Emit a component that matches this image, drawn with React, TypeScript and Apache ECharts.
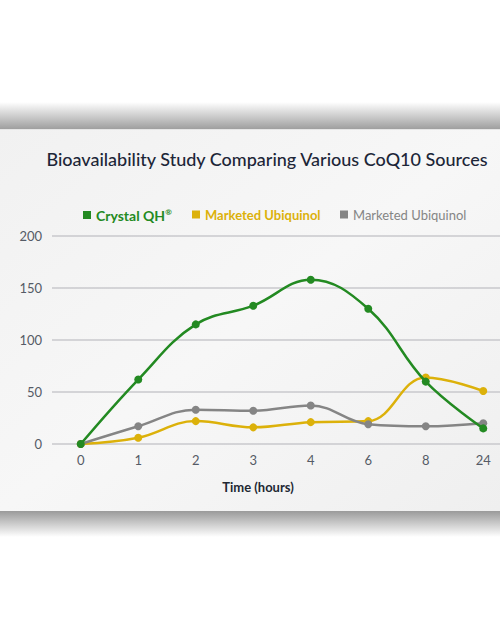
import React, { useEffect, useRef } from "react";
import * as echarts from "echarts";

const hours = ["0", "1", "2", "3", "4", "6", "8", "24"];
const crystalQH = [0, 62, 115, 133, 158, 130, 60, 15];
const ubiquinolA = [0, 6, 22, 16, 21, 22, 64, 51];
const ubiquinolB = [0, 17, 33, 32, 37, 19, 17, 20];
const yTicks = { min: 0, max: 200, interval: 50 };

const GREEN = "#238a22";
const YELLOW = "#dcb10a";
const GRAY = "#858585";

export default function App() {
  const ref = useRef<HTMLDivElement>(null);
  useEffect(() => {
    if (!ref.current) return;
    const chart = echarts.init(ref.current, undefined, { renderer: "svg" });
    const font = "Lato, 'Open Sans', sans-serif";
    const mkSeries = (name: string, data: number[], color: string, z: number) => ({
      name,
      type: "line",
      data,
      smooth: 0.4,
      symbol: "circle",
      symbolSize: 8,
      z,
      lineStyle: { color, width: 2.5 },
      itemStyle: { color },
    });
    chart.setOption({
      animation: false,
      backgroundColor: "#ffffff",
      textStyle: { fontFamily: font },
      graphic: [
        {
          type: "rect",
          z: -10,
          silent: true,
          shape: { x: 0, y: 102, width: 500, height: 27 },
          style: {
            fill: new echarts.graphic.LinearGradient(0, 0, 0, 1, [
              { offset: 0, color: "#ffffff" },
              { offset: 1, color: "#9f9f9f" },
            ]),
          },
        },
        {
          type: "rect",
          z: -10,
          silent: true,
          shape: { x: 0, y: 511, width: 500, height: 26 },
          style: {
            fill: new echarts.graphic.LinearGradient(0, 0, 0, 1, [
              { offset: 0, color: "#9a9a9a" },
              { offset: 1, color: "#ffffff" },
            ]),
          },
        },
        {
          type: "rect",
          z: -9,
          silent: true,
          shape: { x: 0, y: 129, width: 500, height: 382 },
          style: {
            fill: new echarts.graphic.LinearGradient(0, 0, 1, 1, [
              { offset: 0, color: "#f1f1f1" },
              { offset: 0.5, color: "#f7f7f7" },
              { offset: 1, color: "#efefef" },
            ]),
          },
        },
        {
          type: "rect",
          z: -8,
          silent: true,
          shape: { x: 0, y: 129, width: 500, height: 1 },
          style: { fill: "#e6e6e6" },
        },
      ],
      title: {
        text: "Bioavailability Study Comparing Various CoQ10 Sources",
        left: 262,
        textAlign: "center",
        top: 145,
        textStyle: { fontFamily: font, fontSize: 18, fontWeight: 500, color: "#1d2638" },
      },
      legend: [
        {
          left: 78,
          top: 203,
          icon: "rect",
          itemWidth: 8,
          itemHeight: 8,
          itemGap: 6,
          data: [{ name: "Crystal QH®", itemStyle: { color: GREEN } }],
          formatter: () => "{a|Crystal QH}{r|®}",
          textStyle: {
            rich: {
              a: { fontFamily: font, fontSize: 14, fontWeight: "bold", color: GREEN },
              r: { fontFamily: font, fontSize: 8, fontWeight: "bold", color: GREEN, verticalAlign: "top", padding: [0, 0, 5, 0] },
            },
          },
        },
        {
          left: 187,
          top: 203,
          icon: "rect",
          itemWidth: 8,
          itemHeight: 8,
          itemGap: 6,
          data: [{ name: "Marketed Ubiquinol", itemStyle: { color: YELLOW } }],
          textStyle: { fontFamily: font, fontSize: 13, fontWeight: "bold", color: YELLOW },
        },
        {
          left: 335,
          top: 203,
          icon: "rect",
          itemWidth: 8,
          itemHeight: 8,
          itemGap: 6,
          data: [{ name: "Marketed Ubiquinol ", itemStyle: { color: GRAY } }],
          formatter: () => "Marketed Ubiquinol",
          textStyle: { fontFamily: font, fontSize: 13, color: GRAY },
        },
      ],
      grid: { left: 52, right: -12, top: 236, bottom: 197, containLabel: false, outerBoundsMode: "none" },
      xAxis: {
        type: "category",
        data: hours,
        boundaryGap: true,
        axisLine: { show: false },
        axisTick: { show: false },
        axisLabel: { color: "#555b66", fontSize: 13, margin: 9, fontFamily: font },
        name: "Time (hours)",
        nameLocation: "middle",
        nameGap: 36,
        nameTextStyle: { color: "#222833", fontSize: 13, fontWeight: "bold", fontFamily: font, padding: [0, 48, 0, 0] },
      },
      yAxis: {
        type: "value",
        min: yTicks.min,
        max: yTicks.max,
        interval: yTicks.interval,
        axisLine: { show: false },
        axisTick: { show: false },
        axisLabel: { color: "#555b66", fontSize: 13, margin: 10, fontFamily: font },
        splitLine: { lineStyle: { color: "#c9c9cc", width: 1.5 } },
      },
      series: [
        mkSeries("Crystal QH®", crystalQH, GREEN, 3),
        mkSeries("Marketed Ubiquinol", ubiquinolA, YELLOW, 2),
        mkSeries("Marketed Ubiquinol ", ubiquinolB, GRAY, 2),
      ],
    });
    return () => chart.dispose();
  }, []);
  return (
    <div
      ref={ref}
      style={{ position: "fixed", left: 0, top: 0, width: 500, height: 641 }}
    />
  );
}
